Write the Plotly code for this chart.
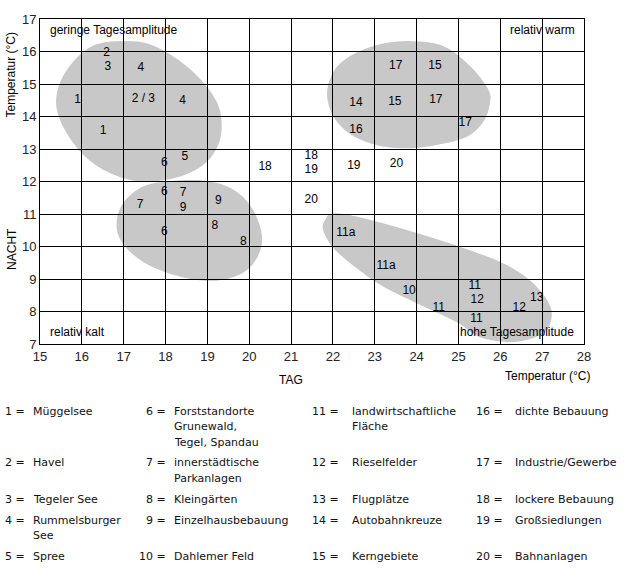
import numpy as np
import plotly.graph_objects as go

# ---------------- data ----------------
label_text = ["2", "3", "4", "1", "2 / 3", "4", "1", "6", "5", "18",
              "17", "15", "14", "15", "17", "17", "16", "18", "19", "19", "20", "20",
              "6", "7", "7", "9", "9", "8", "6", "8",
              "11a", "11a", "10", "11", "11", "12", "11", "12", "13"]
label_tag = [16.59, 16.62, 17.41, 15.90, 17.47, 18.41, 16.51, 17.97, 18.46, 20.38,
             23.50, 24.44, 22.55, 23.48, 24.46, 25.16, 22.55, 21.48, 21.48, 22.50, 23.52, 21.48,
             17.97, 18.42, 17.39, 18.42, 19.26, 19.18, 17.97, 19.86,
             22.31, 23.27, 23.82, 24.53, 25.39, 25.45, 25.43, 26.45, 26.87]
label_nacht = [15.96, 15.53, 15.48, 14.52, 14.54, 14.48, 13.55, 12.58, 12.76, 12.46,
               15.54, 15.54, 14.42, 14.44, 14.50, 13.81, 13.58, 12.79, 12.34, 12.49, 12.53, 11.44,
               11.67, 11.64, 11.29, 11.19, 11.41, 10.63, 10.45, 10.14,
               10.42, 9.41, 8.62, 8.12, 8.77, 8.34, 7.78, 8.12, 8.42]

# cluster outlines (TAG, NACHT)
blob1_tag = [16.99, 17.63, 18.34, 18.90, 19.26, 19.34, 19.22, 18.90, 18.34, 17.63, 16.99, 16.27, 15.72, 15.40, 15.48, 15.88, 16.35]
blob1_nacht = [16.32, 16.22, 15.71, 15.05, 14.34, 13.62, 13.02, 12.51, 12.15, 12.00, 12.10, 12.56, 13.32, 14.23, 15.05, 15.81, 16.22]
blob2_tag = [17.47, 18.18, 18.98, 19.62, 20.06, 20.30, 20.21, 19.86, 19.22, 18.42, 17.55, 16.99, 16.83, 16.99]
blob2_nacht = [11.85, 12.02, 12.02, 11.75, 11.19, 10.37, 9.71, 9.20, 8.95, 9.05, 9.46, 10.07, 10.68, 11.34]
blob3_tag = [23.84, 24.63, 25.27, 25.71, 25.75, 25.59, 25.19, 24.47, 23.76, 23.04, 22.40, 22.00, 21.86, 22.05, 22.48, 23.12]
blob3_nacht = [16.32, 16.17, 15.56, 14.84, 14.39, 13.83, 13.37, 13.12, 13.02, 13.12, 13.47, 14.03, 14.74, 15.45, 15.91, 16.22]
blob4_tag = [22.00, 22.64, 23.84, 25.03, 25.99, 26.63, 27.06, 27.23, 27.11, 26.77, 26.23, 25.51, 24.96, 23.96, 23.12, 22.40, 21.97, 21.76, 21.83]
blob4_nacht = [11.02, 10.90, 10.48, 9.99, 9.53, 9.04, 8.46, 7.95, 7.43, 7.18, 7.06, 7.21, 7.67, 8.28, 8.83, 9.50, 10.02, 10.54, 10.85]

x_ticks = list(range(15, 29))
y_ticks = list(range(7, 18))

legend_num = ["1", "2", "3", "4", "5", "6", "7", "8", "9", "10",
              "11", "12", "13", "14", "15", "16", "17", "18", "19", "20"]
legend_name = ["Müggelsee", "Havel", "Tegeler See", "Rummelsburger\nSee", "Spree",
               "Forststandorte\nGrunewald,\nTegel, Spandau", "innerstädtische\nParkanlagen",
               "Kleingärten", "Einzelhausbebauung", "Dahlemer Feld",
               "landwirtschaftliche\nFläche", "Rieselfelder", "Flugplätze", "Autobahnkreuze",
               "Kerngebiete", "dichte Bebauung", "Industrie/Gewerbe", "lockere Bebauung",
               "Großsiedlungen", "Bahnanlagen"]

# ---------------- layout helpers ----------------
W, H = 627, 581
ML, MR, MT, MB = 40, 43, 16, 237
PW, PH = W - ML - MR, H - MT - MB


def px(xp):
    return (xp - ML) / PW


def py(yp):
    return (H - MB - yp) / PH


def smooth_closed(xs, ys, n=24):
    pts = np.column_stack([xs, ys]).astype(float)
    N = len(pts)
    out = []
    for i in range(N):
        p0, p1, p2, p3 = pts[(i - 1) % N], pts[i], pts[(i + 1) % N], pts[(i + 2) % N]
        for t in np.linspace(0, 1, n, endpoint=False):
            t2, t3 = t * t, t * t * t
            out.append(0.5 * (2 * p1 + (-p0 + p2) * t + (2 * p0 - 5 * p1 + 4 * p2 - p3) * t2
                              + (-p0 + 3 * p1 - 3 * p2 + p3) * t3))
    return out


def blob_path(xs, ys):
    pts = smooth_closed(xs, ys)
    return "M " + " L ".join(f"{p[0]:.4f},{p[1]:.4f}" for p in pts) + " Z"


fig = go.Figure()

fig.add_trace(go.Scatter(
    x=label_tag, y=label_nacht, text=label_text, mode="text",
    textfont=dict(family="Liberation Sans, Arial", size=12, color="#000"),
    hoverinfo="skip", showlegend=False, cliponaxis=False))

shapes = []
for bx, by in [(blob1_tag, blob1_nacht), (blob2_tag, blob2_nacht),
               (blob3_tag, blob3_nacht), (blob4_tag, blob4_nacht)]:
    shapes.append(dict(type="path", xref="x", yref="y", path=blob_path(bx, by),
                       fillcolor="#c8c8c8", line=dict(width=0), layer="below"))

chart_font = dict(family="Liberation Sans, Arial", size=12, color="#000")
ann = []
ann.append(dict(x=15.18, y=16.66, xref="x", yref="y", text="geringe Tagesamplitude",
                xanchor="left", yanchor="middle", showarrow=False, font=chart_font))
ann.append(dict(x=27.84, y=16.66, xref="x", yref="y", text="relativ warm",
                xanchor="right", yanchor="middle", showarrow=False, font=chart_font))
ann.append(dict(x=15.18, y=7.38, xref="x", yref="y", text="relativ kalt",
                xanchor="left", yanchor="middle", showarrow=False, font=chart_font))
ann.append(dict(x=27.82, y=7.38, xref="x", yref="y", text="hohe Tagesamplitude",
                xanchor="right", yanchor="middle", showarrow=False, font=chart_font))

# axis titles
ann.append(dict(x=px(291), y=py(380), xref="paper", yref="paper", text="TAG",
                xanchor="center", yanchor="middle", showarrow=False, font=chart_font))
ann.append(dict(x=px(547), y=py(376), xref="paper", yref="paper", text="Temperatur (°C)",
                xanchor="center", yanchor="middle", showarrow=False, font=chart_font))
ann.append(dict(x=px(11), y=py(73), xref="paper", yref="paper", text="Temperatur (°C)",
                textangle=-90, xanchor="center", yanchor="middle", showarrow=False, font=chart_font))
ann.append(dict(x=px(12), y=py(248), xref="paper", yref="paper", text="NACHT",
                textangle=-90, xanchor="center", yanchor="middle", showarrow=False, font=chart_font))

# legend (key) below the chart
leg_font = dict(family="DejaVu Sans, Verdana", size=11, color="#111")
col_eq = [25.5, 166.5, 340.0, 504.0]
col_name = [32.3, 173.3, 350.7, 514.0]
row_y = [411.7, 464.0, 501.0, 521.7, 558.3]
line_h = 15.7
for i, (num, name) in enumerate(zip(legend_num, legend_name)):
    c, r = divmod(i, 5)
    yy = row_y[r]
    ann.append(dict(x=px(col_eq[c]), y=py(yy), xref="paper", yref="paper", text=f"{num} =",
                    xanchor="right", yanchor="middle", showarrow=False, font=leg_font, borderpad=0))
    for k, line in enumerate(name.split("\n")):
        ann.append(dict(x=px(col_name[c]), y=py(yy + k * line_h), xref="paper", yref="paper",
                        text=line, xanchor="left", yanchor="middle", showarrow=False,
                        font=leg_font, borderpad=0))

axis_common = dict(showgrid=True, gridcolor="black", gridwidth=1, showline=True,
                   linecolor="black", linewidth=1, mirror=True, ticks="", zeroline=False,
                   tickfont=dict(family="Liberation Sans, Arial", size=13, color="#222"))

fig.update_layout(
    width=W, height=H,
    margin=dict(l=ML, r=MR, t=MT, b=MB, pad=0),
    paper_bgcolor="white", plot_bgcolor="white",
    xaxis=dict(range=[15, 28], tickvals=x_ticks, **axis_common),
    yaxis=dict(range=[7, 17], tickvals=y_ticks, **axis_common),
    shapes=shapes, annotations=ann, showlegend=False,
)

fig.write_html("out.html")
